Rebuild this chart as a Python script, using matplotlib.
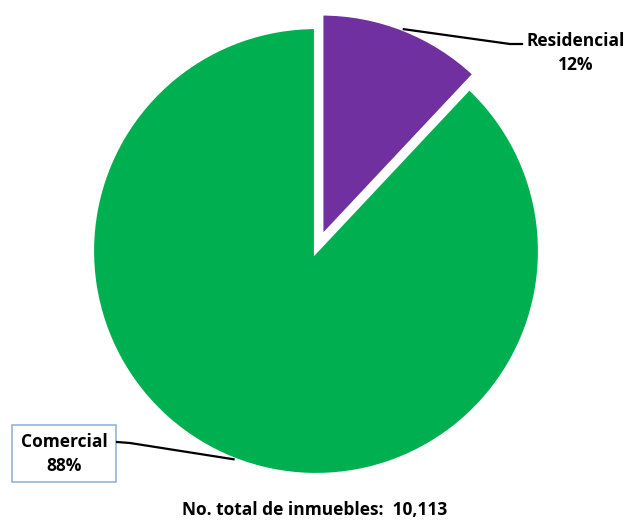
import numpy as np
import matplotlib.pyplot as plt
from matplotlib.patches import Rectangle

# datos
categorias = ["Residencial", "Comercial"]
valores = [12, 88]
colores = ["#7030A0", "#00B050"]
total_inmuebles = "10,113"

W, H = 626, 522
fig = plt.figure(figsize=(W / 100, H / 100), dpi=100)
ax = fig.add_axes([0, 0, 1, 1])
ax.axis("off")

cx, cy, r = 316, H - 251, 224
# explode en matplotlib va en unidades de datos, no en fraccion del radio
explode = [0.065 * r, 0]
wedges, _ = ax.pie(valores, colors=colores, startangle=90, counterclock=False,
                   radius=r, center=(cx, cy), explode=explode,
                   wedgeprops=dict(edgecolor="white", linewidth=3))
ax.set_xlim(0, W)
ax.set_ylim(0, H)
ax.set_aspect("equal")

fnt = dict(family=["Open Sans", "DejaVu Sans"], fontweight="bold", color="black")

# punto medio del arco de cada sector
def punto_arco(w):
    ang = np.deg2rad((w.theta1 + w.theta2) / 2)
    x0, y0 = w.center
    return x0 + w.r * np.cos(ang), y0 + w.r * np.sin(ang)

# Residencial
px, py = punto_arco(wedges[0])
ax.plot([px, 510, 522], [py, H - 44, H - 44], color="black", lw=1.6)
ax.text(576, H - 53, f"{categorias[0]}\n{valores[0]}%", ha="center", va="center",
        fontsize=12.5, linespacing=1.45, **fnt)

# Comercial
px, py = punto_arco(wedges[1])
ax.plot([px, 130, 117], [py, H - 443, H - 442], color="black", lw=1.6)
ax.add_patch(Rectangle((12, H - 482), 104, 57, facecolor="white",
                       edgecolor="#95B3D7", lw=1.2))
ax.text(64, H - 454, f"{categorias[1]}\n{valores[1]}%", ha="center", va="center",
        fontsize=12.5, linespacing=1.45, **fnt)

ax.text(315, H - 510, f"No. total de inmuebles:  {total_inmuebles}", ha="center",
        va="center", fontsize=12.5, **fnt)

fig.savefig("out.png", dpi=100)
